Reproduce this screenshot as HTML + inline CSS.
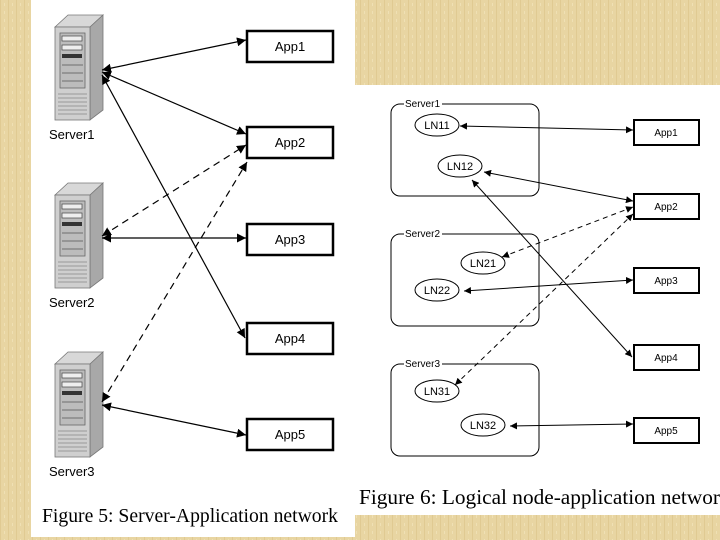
<!DOCTYPE html>
<html><head><meta charset="utf-8"><style>
html,body{margin:0;padding:0;width:720px;height:540px;overflow:hidden;background:#e6d39e;}
svg{display:block}
</style></head><body>
<svg width="720" height="540" viewBox="0 0 720 540" xmlns="http://www.w3.org/2000/svg">
<defs>
<pattern id="tex" width="8" height="8" patternUnits="userSpaceOnUse">
<rect width="8" height="8" fill="#e8d5a2"/><rect x="0" y="0" width="1" height="8" fill="#e0ca92"/><rect x="4" y="3" width="1" height="3" fill="#efe0b4"/>
</pattern>
<marker id="a" viewBox="0 0 10 10" refX="10" refY="5" markerWidth="9" markerHeight="9" orient="auto-start-reverse" markerUnits="userSpaceOnUse"><path d="M0,0L10,5L0,10z" fill="#000"/></marker>
<marker id="b" viewBox="0 0 10 10" refX="10" refY="5" markerWidth="7" markerHeight="7" orient="auto-start-reverse" markerUnits="userSpaceOnUse"><path d="M0,0L10,5L0,10z" fill="#000"/></marker>
<g id="srv">
<path d="M55,27 L68,15 L103,15 L90,27Z" fill="#d8d8d8" stroke="#777" stroke-width="0.8"/>
<path d="M90,27 L103,15 L103,110 L90,120Z" fill="#a8a8a8" stroke="#777" stroke-width="0.8"/>
<rect x="55" y="27" width="35" height="93" fill="#cfcfcf" stroke="#777" stroke-width="0.8"/>
<rect x="60" y="33" width="25" height="55" fill="#bcbcbc" stroke="#666" stroke-width="0.8"/>
<rect x="62" y="36" width="20" height="5" fill="#eee" stroke="#444" stroke-width="0.7"/>
<rect x="62" y="45" width="20" height="5" fill="#eee" stroke="#444" stroke-width="0.7"/>
<rect x="62" y="54" width="20" height="4" fill="#333"/>
<line x1="62" y1="65" x2="83" y2="65" stroke="#555" stroke-width="0.7"/>
<line x1="62" y1="73" x2="83" y2="73" stroke="#555" stroke-width="0.7"/>
<line x1="62" y1="81" x2="83" y2="81" stroke="#555" stroke-width="0.7"/>
<g stroke="#888" stroke-width="0.8"><line x1="58" y1="94" x2="87" y2="94"/><line x1="58" y1="98" x2="87" y2="98"/><line x1="58" y1="102" x2="87" y2="102"/><line x1="58" y1="106" x2="87" y2="106"/><line x1="58" y1="110" x2="87" y2="110"/><line x1="58" y1="114" x2="87" y2="114"/></g>
</g>
</defs>
<rect width="720" height="540" fill="url(#tex)"/>
<rect x="31" y="0" width="324" height="537" fill="#fff"/>
<rect x="355" y="85" width="365" height="430" fill="#fff"/>

<use href="#srv"/>
<use href="#srv" y="168"/>
<use href="#srv" y="337"/>
<g font-family="Liberation Sans, sans-serif" font-size="13" fill="#000">
<text x="49" y="139">Server1</text>
<text x="49" y="307">Server2</text>
<text x="49" y="476">Server3</text>
</g>
<g fill="#fff" stroke="#000" stroke-width="2.5">
<rect x="247" y="31" width="86" height="31"/>
<rect x="247" y="127" width="86" height="31"/>
<rect x="247" y="224" width="86" height="31"/>
<rect x="247" y="323" width="86" height="31"/>
<rect x="247" y="419" width="86" height="31"/>
</g>
<g font-family="Liberation Sans, sans-serif" font-size="13" text-anchor="middle">
<text x="290" y="51">App1</text><text x="290" y="147">App2</text><text x="290" y="244">App3</text><text x="290" y="343">App4</text><text x="290" y="439">App5</text>
</g>
<g stroke="#000" stroke-width="1.2" fill="none">
<line x1="102" y1="70" x2="246" y2="40" marker-start="url(#a)" marker-end="url(#a)"/>
<line x1="102" y1="72" x2="246" y2="134" marker-start="url(#a)" marker-end="url(#a)"/>
<line x1="102" y1="75" x2="245" y2="338" marker-start="url(#a)" marker-end="url(#a)"/>
<line x1="102" y1="238" x2="246" y2="238" marker-start="url(#a)" marker-end="url(#a)"/>
<line x1="102" y1="405" x2="246" y2="435" marker-start="url(#a)" marker-end="url(#a)"/>
<line x1="102" y1="236" x2="246" y2="145" stroke-dasharray="7,5" marker-start="url(#a)" marker-end="url(#a)"/>
<line x1="102" y1="402" x2="247" y2="162" stroke-dasharray="7,5" marker-start="url(#a)" marker-end="url(#a)"/>
</g>
<text x="42" y="522" font-family="Liberation Serif, serif" font-size="19.5" textLength="296" lengthAdjust="spacingAndGlyphs">Figure 5: Server-Application network</text>

<!-- right -->
<g fill="none" stroke="#000" stroke-width="1">
<rect x="391" y="104" width="148" height="92" rx="9"/>
<rect x="391" y="234" width="148" height="92" rx="9"/>
<rect x="391" y="364" width="148" height="92" rx="9"/>
</g>
<g font-family="Liberation Sans, sans-serif" font-size="10" fill="#000">
<rect x="404" y="98" width="38" height="10" fill="#fff"/><text x="405" y="107">Server1</text>
<rect x="404" y="228" width="38" height="10" fill="#fff"/><text x="405" y="237">Server2</text>
<rect x="404" y="358" width="38" height="10" fill="#fff"/><text x="405" y="367">Server3</text>
</g>
<g fill="#fff" stroke="#000" stroke-width="1">
<ellipse cx="437" cy="125" rx="22" ry="11"/>
<ellipse cx="460" cy="166" rx="22" ry="11"/>
<ellipse cx="483" cy="263" rx="22" ry="11"/>
<ellipse cx="437" cy="290" rx="22" ry="11"/>
<ellipse cx="437" cy="391" rx="22" ry="11"/>
<ellipse cx="483" cy="425" rx="22" ry="11"/>
</g>
<g font-family="Liberation Sans, sans-serif" font-size="11" text-anchor="middle">
<text x="437" y="129">LN11</text><text x="460" y="170">LN12</text><text x="483" y="267">LN21</text><text x="437" y="294">LN22</text><text x="437" y="395">LN31</text><text x="483" y="429">LN32</text>
</g>
<g fill="#fff" stroke="#000" stroke-width="2">
<rect x="634" y="120" width="65" height="25"/>
<rect x="634" y="194" width="65" height="25"/>
<rect x="634" y="268" width="65" height="25"/>
<rect x="634" y="345" width="65" height="25"/>
<rect x="634" y="418" width="65" height="25"/>
</g>
<g font-family="Liberation Sans, sans-serif" font-size="10" text-anchor="middle">
<text x="666" y="136">App1</text><text x="666" y="210">App2</text><text x="666" y="284">App3</text><text x="666" y="361">App4</text><text x="666" y="434">App5</text>
</g>
<g stroke="#000" stroke-width="1" fill="none">
<line x1="460" y1="126" x2="633" y2="130" marker-start="url(#b)" marker-end="url(#b)"/>
<line x1="484" y1="172" x2="633" y2="201" marker-start="url(#b)" marker-end="url(#b)"/>
<line x1="472" y1="180" x2="632" y2="357" marker-start="url(#b)" marker-end="url(#b)"/>
<line x1="464" y1="291" x2="633" y2="280" marker-start="url(#b)" marker-end="url(#b)"/>
<line x1="510" y1="426" x2="633" y2="424" marker-start="url(#b)" marker-end="url(#b)"/>
<line x1="502" y1="257" x2="633" y2="207" stroke-dasharray="5,4" marker-start="url(#b)" marker-end="url(#b)"/>
<line x1="455" y1="385" x2="633" y2="214" stroke-dasharray="5,4" marker-start="url(#b)" marker-end="url(#b)"/>
</g>
<text x="359" y="504" font-family="Liberation Serif, serif" font-size="21" textLength="361" lengthAdjust="spacingAndGlyphs">Figure 6: Logical node-application networ</text>
</svg>
</body></html>
